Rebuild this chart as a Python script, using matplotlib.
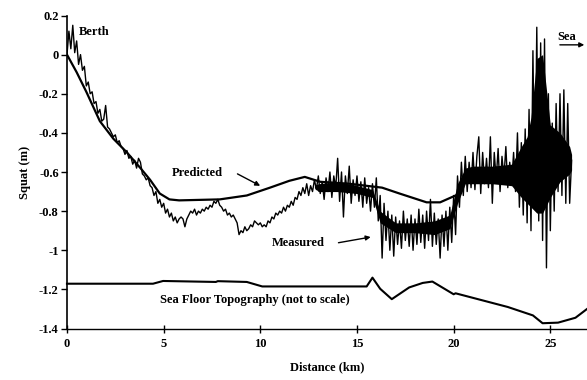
import numpy as np
import matplotlib
matplotlib.use("Agg")
import matplotlib.pyplot as plt

plt.rcParams['font.family'] = ['Liberation Serif', 'DejaVu Serif']

# predicted squat along the channel (km, m)
pred_x = [0, 0.5, 1.0, 1.7, 2.4, 3.1, 3.8, 4.3, 4.8, 5.3, 5.8, 7.9, 9.3, 10.5, 11.5, 12.3,
          13.1, 14.6, 16.3, 17.2, 18.6, 19.3, 20.1]
pred_y = [0.0, -0.09, -0.19, -0.34, -0.43, -0.50, -0.58, -0.64, -0.71, -0.74, -0.745, -0.74,
          -0.72, -0.68, -0.645, -0.625, -0.65, -0.66, -0.68, -0.71, -0.755, -0.755, -0.72]

# measured squat, one sample every 0.1 km from the berth
meas_y = [
    0.00, 0.12, 0.03, 0.15, 0.01, 0.07, -0.05, 0.00, -0.08, -0.06,
    -0.16, -0.14, -0.20, -0.19, -0.25, -0.24, -0.30, -0.28, -0.34, -0.33,
    -0.26, -0.37, -0.38, -0.40, -0.42, -0.41, -0.45, -0.44, -0.47, -0.48,
    -0.51, -0.49, -0.53, -0.52, -0.56, -0.54, -0.58, -0.53, -0.55, -0.61,
    -0.62, -0.64, -0.63, -0.67, -0.68, -0.72, -0.70, -0.76, -0.74, -0.78,
    -0.76, -0.81, -0.79, -0.83, -0.81, -0.85, -0.83, -0.86, -0.84, -0.83,
    -0.84, -0.88, -0.84, -0.82, -0.80, -0.81, -0.79, -0.82, -0.80, -0.81,
    -0.79, -0.80, -0.78, -0.79, -0.77, -0.78, -0.75, -0.76, -0.74, -0.77,
    -0.78, -0.80, -0.79, -0.82, -0.81, -0.83, -0.82, -0.84, -0.86, -0.92,
    -0.90, -0.91, -0.88, -0.90, -0.89, -0.87, -0.88, -0.85, -0.86, -0.87,
    -0.86, -0.88, -0.87, -0.88, -0.85, -0.86, -0.83, -0.84, -0.81, -0.82,
    -0.80, -0.81, -0.78, -0.80, -0.77, -0.78, -0.75, -0.77, -0.73, -0.74,
    -0.70, -0.72, -0.68, -0.71, -0.66, -0.72, -0.67, -0.70, -0.64, -0.69,
    -0.62, -0.71, -0.65, -0.74, -0.63, -0.70, -0.60, -0.73, -0.62, -0.68,
    -0.53, -0.75, -0.60, -0.83, -0.62, -0.71, -0.57, -0.76, -0.64, -0.72,
    -0.62, -0.75, -0.65, -0.78, -0.63, -0.76, -0.68, -0.80, -0.66, -0.78,
    -0.63, -0.85, -0.72, -1.04, -0.76, -0.95, -0.80, -1.00, -0.82, -1.03,
    -0.83, -0.97, -0.85, -0.99, -0.80, -0.95, -0.84, -0.98, -0.82, -1.00,
    -0.84, -0.97, -0.79, -0.96, -0.82, -0.99, -0.80, -0.95, -0.74, -0.98,
    -0.81, -0.97, -0.84, -1.04, -0.82, -0.98, -0.80, -1.00, -0.78, -0.96,
    -0.72, -0.92, -0.62, -0.78, -0.55, -0.72, -0.52, -0.70, -0.55, -0.68,
    -0.50, -0.69, -0.52, -0.42, -0.71, -0.50, -0.66, -0.53, -0.68, -0.42,
    -0.76, -0.50, -0.64, -0.48, -0.70, -0.52, -0.63, -0.47, -0.68, -0.55,
    -0.66, -0.50, -0.70, -0.40, -0.78, -0.45, -0.82, -0.38, -0.86, -0.28,
    -0.90, 0.02, -0.75, 0.14, -0.85, 0.06, -0.95, 0.08, -1.09, -0.20,
    -0.90, -0.35, -0.80, -0.25, -0.70, -0.20, -0.72, -0.18, -0.76, -0.25,
    -0.76, -0.54,
]
meas_x = np.arange(len(meas_y)) * 0.1

# solid core of the noisy measured trace
core_x = [12.8, 13.0, 14.0, 15.0, 15.8, 16.2, 17.0, 18.0, 19.0, 19.8, 20.2, 20.6, 21.0,
          22.0, 23.0, 23.5, 23.8, 24.0, 24.3, 24.6, 25.0, 25.5, 26.0, 26.1]
core_hi = [-0.67, -0.66, -0.65, -0.67, -0.69, -0.80, -0.86, -0.86, -0.85, -0.82, -0.66,
           -0.58, -0.57, -0.57, -0.56, -0.47, -0.42, -0.32, -0.02, 0.00, -0.36, -0.40,
           -0.47, -0.51]
core_lo = [-0.68, -0.70, -0.70, -0.71, -0.73, -0.86, -0.91, -0.91, -0.92, -0.89, -0.76,
           -0.66, -0.66, -0.66, -0.67, -0.73, -0.76, -0.78, -0.81, -0.81, -0.73, -0.65,
           -0.61, -0.59]

# sea floor profile, drawn in squat units (not to scale)
topo_x = [0, 4.45, 4.97, 7.7, 7.8, 9.3, 10.1, 15.5, 15.8, 16.2, 16.8, 17.7, 18.4, 18.9,
          20.0, 20.1, 22.8, 24.1, 24.6, 25.4, 26.3, 26.9]
topo_y = [-1.171, -1.171, -1.157, -1.162, -1.158, -1.162, -1.185, -1.185, -1.14, -1.197,
          -1.25, -1.19, -1.167, -1.16, -1.225, -1.22, -1.29, -1.333, -1.373, -1.37,
          -1.345, -1.30]

yticks = [0.2, 0, -0.2, -0.4, -0.6, -0.8, -1, -1.2, -1.4]
xticks = [0, 5, 10, 15, 20, 25]

fig = plt.figure(figsize=(5.87, 3.80), dpi=100)
ax = fig.add_axes([0.1141, 0.1355, 0.886, 0.8237])

ax.fill_between(core_x, core_lo, core_hi, color='black', lw=0)
ax.plot(meas_x, meas_y, color='black', lw=1.0)
ax.plot(pred_x, pred_y, color='black', lw=1.6)
ax.plot(topo_x, topo_y, color='black', lw=1.5, clip_on=False)

ax.set_xlim(0, 26.9)
ax.set_ylim(-1.4, 0.2)
ax.set_xticks(xticks)
ax.set_yticks(yticks)
ax.set_xticklabels([str(t) for t in xticks])
ax.set_yticklabels([('%g' % t) for t in yticks])
for side in ['top', 'right']:
    ax.spines[side].set_visible(False)
ax.spines['left'].set_linewidth(1.2)
ax.spines['bottom'].set_linewidth(1.0)
ax.tick_params(axis='y', direction='out', length=4, width=1, labelsize=9, pad=2)
ax.tick_params(axis='x', direction='inout', length=6, width=1, labelsize=9, pad=4)
for lab in ax.get_xticklabels() + ax.get_yticklabels():
    lab.set_fontweight('bold')

ax.set_xlabel('Distance (km)', fontsize=9, fontweight='bold', labelpad=8)
ax.set_ylabel('Squat (m)', fontsize=9, fontweight='bold', labelpad=6)

# labels and arrows
ax.text(0.62, 0.118, 'Berth', fontsize=9, fontweight='bold', va='center', ha='left')
ax.text(25.35, 0.092, 'Sea', fontsize=9, fontweight='bold', va='center', ha='left')
ax.annotate('', xy=(26.9, 0.05), xytext=(25.35, 0.05), annotation_clip=False,
            arrowprops=dict(arrowstyle='-|>', color='black', lw=1, mutation_scale=7))
ax.text(5.43, -0.603, 'Predicted', fontsize=9, fontweight='bold', va='center', ha='left')
ax.annotate('', xy=(10.12, -0.677), xytext=(8.69, -0.603),
            arrowprops=dict(arrowstyle='-|>', color='black', lw=1, mutation_scale=7))
ax.text(10.6, -0.965, 'Measured', fontsize=9, fontweight='bold', va='center', ha='left')
ax.annotate('', xy=(15.85, -0.93), xytext=(13.9, -0.964),
            arrowprops=dict(arrowstyle='-|>', color='black', lw=1, mutation_scale=7))
ax.text(4.8, -1.255, 'Sea Floor Topography (not to scale)', fontsize=9, fontweight='bold',
        va='center', ha='left')

fig.savefig('out.png', dpi=100)
